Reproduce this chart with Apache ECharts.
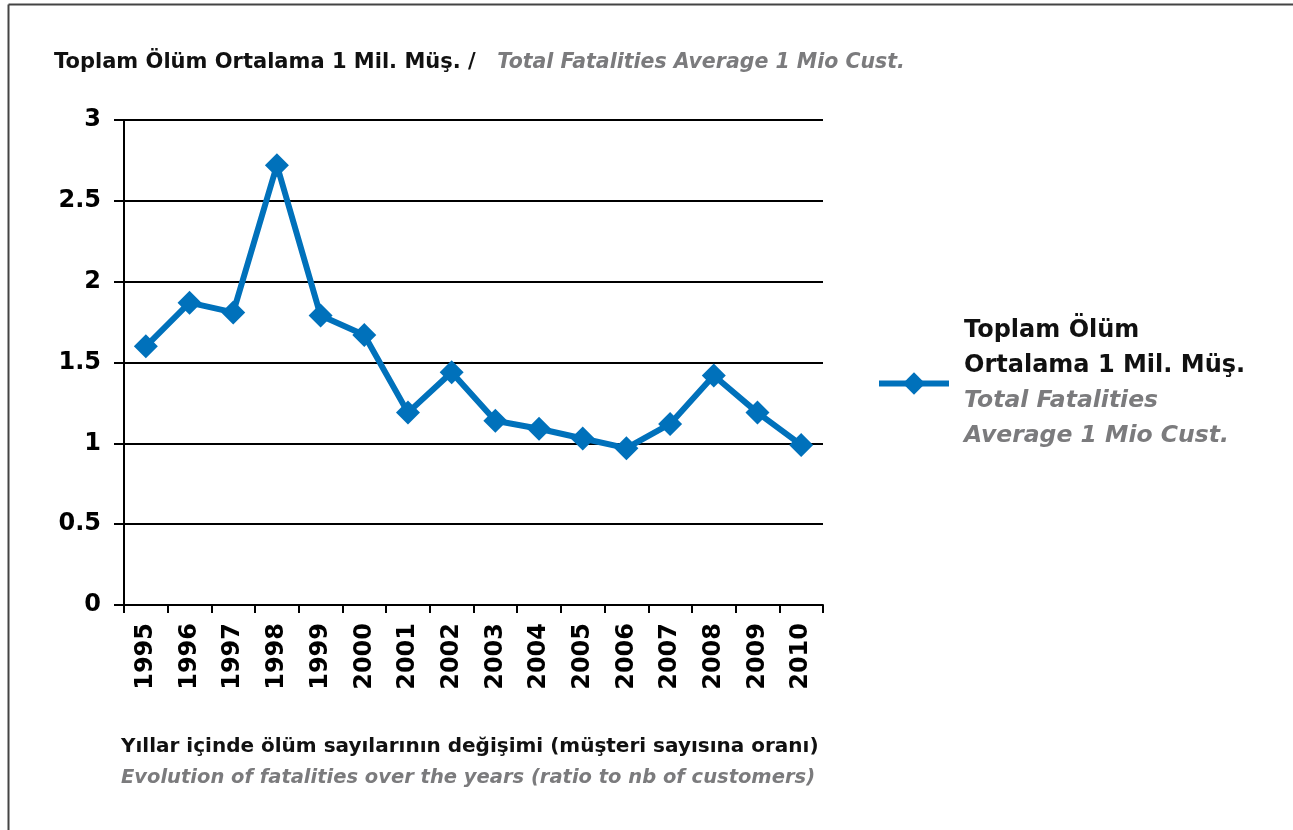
<!DOCTYPE html>
<html>
<head>
<meta charset="utf-8">
<script src="https://cdn.jsdelivr.net/npm/echarts@6/dist/echarts.min.js"></script>
<style>
    html, body { margin: 0; padding: 0; background: #fff; }
    #chart { width: 1293px; height: 830px; }
</style>
</head>
<body>
<div id="chart"></div>
<script>
var years = ['1995', '1996', '1997', '1998', '1999', '2000', '2001', '2002',
             '2003', '2004', '2005', '2006', '2007', '2008', '2009', '2010'];
var fatalities = [1.60, 1.87, 1.81, 2.72, 1.79, 1.67, 1.19, 1.44,
                  1.14, 1.09, 1.03, 0.97, 1.12, 1.42, 1.19, 0.99];
var yTicks = [0, 0.5, 1, 1.5, 2, 2.5, 3];

var FONT = 'DejaVu Sans';
var BLUE = '#0071bb';
var GREY = '#7b7b7d';

var chart = echarts.init(document.getElementById('chart'));
var option = {
    animation: false,
    textStyle: { fontFamily: FONT },
    title: {
        left: 54, top: 52, padding: 0,
        text: '{a|Toplam Ölüm Ortalama 1 Mil. Müş. / }{b|  Total Fatalities Average 1 Mio Cust.}',
        textStyle: {
            rich: {
                a: { fontFamily: FONT, fontSize: 21, fontWeight: 'bold', color: '#111' },
                b: { fontFamily: FONT, fontSize: 20.5, fontWeight: 'bold', fontStyle: 'italic', color: GREY }
            }
        }
    },
    grid: { left: 124, right: 470, top: 120, bottom: 225, containLabel: false },
    legend: {
        orient: 'vertical',
        left: 876, top: 319, padding: 0,
        itemWidth: 70, itemHeight: 28, itemGap: 0,
        data: ['Toplam Ölüm'],
        lineStyle: { width: 6 },
        formatter: function () {
            return '{a|Toplam Ölüm}\n{a|Ortalama 1 Mil. Müş.}\n{b|Total Fatalities}\n{b|Average 1 Mio Cust.}';
        },
        textStyle: {
            padding: [0, 0, 0, 10],
            rich: {
                a: { fontFamily: FONT, fontSize: 24, fontWeight: 'bold', color: '#111', lineHeight: 35 },
                b: { fontFamily: FONT, fontSize: 23.5, fontWeight: 'bold', fontStyle: 'italic', color: GREY, lineHeight: 35 }
            }
        }
    },
    xAxis: {
        type: 'category',
        data: years,
        boundaryGap: true,
        axisLine: { lineStyle: { color: '#000', width: 2 } },
        axisTick: { show: true, length: 8, lineStyle: { color: '#000', width: 2 } },
        axisLabel: {
            rotate: 90, margin: 18, interval: 0,
            fontFamily: FONT, fontSize: 24, fontWeight: 'bold', color: '#000'
        },
        splitLine: { show: false }
    },
    yAxis: {
        type: 'value',
        min: yTicks[0], max: yTicks[yTicks.length - 1], interval: 0.5,
        axisLine: { show: true, lineStyle: { color: '#000', width: 2 } },
        axisTick: { show: true, inside: false, length: 10, lineStyle: { color: '#000', width: 2 } },
        axisLabel: {
            margin: 23, fontFamily: FONT, fontSize: 24, fontWeight: 'bold', color: '#000'
        },
        splitLine: { show: true, lineStyle: { color: '#000', width: 2 } }
    },
    series: [{
        name: 'Toplam Ölüm',
        type: 'line',
        data: fatalities,
        symbol: 'diamond',
        symbolSize: 24,
        lineStyle: { color: BLUE, width: 6 },
        itemStyle: { color: BLUE }
    }],
    graphic: [
        { type: 'line', shape: { x1: 8.5, y1: 4.5, x2: 1300, y2: 4.5 }, style: { stroke: '#444', lineWidth: 2 } },
        { type: 'line', shape: { x1: 8.5, y1: 4.5, x2: 8.5, y2: 840 }, style: { stroke: '#444', lineWidth: 2 } },
        {
            type: 'text', left: 121, top: 737,
            style: {
                text: '{a|Yıllar içinde ölüm sayılarının değişimi (müşteri sayısına oranı)}\n{b|Evolution of fatalities over the years (ratio to nb of customers)}',
                rich: {
                    a: { fontFamily: FONT, fontSize: 20, fontWeight: 'bold', fill: '#111', lineHeight: 31 },
                    b: { fontFamily: FONT, fontSize: 19.5, fontWeight: 'bold', fontStyle: 'italic', fill: GREY, lineHeight: 31 }
                }
            }
        }
    ]
};
chart.setOption(option);
</script>
</body>
</html>
